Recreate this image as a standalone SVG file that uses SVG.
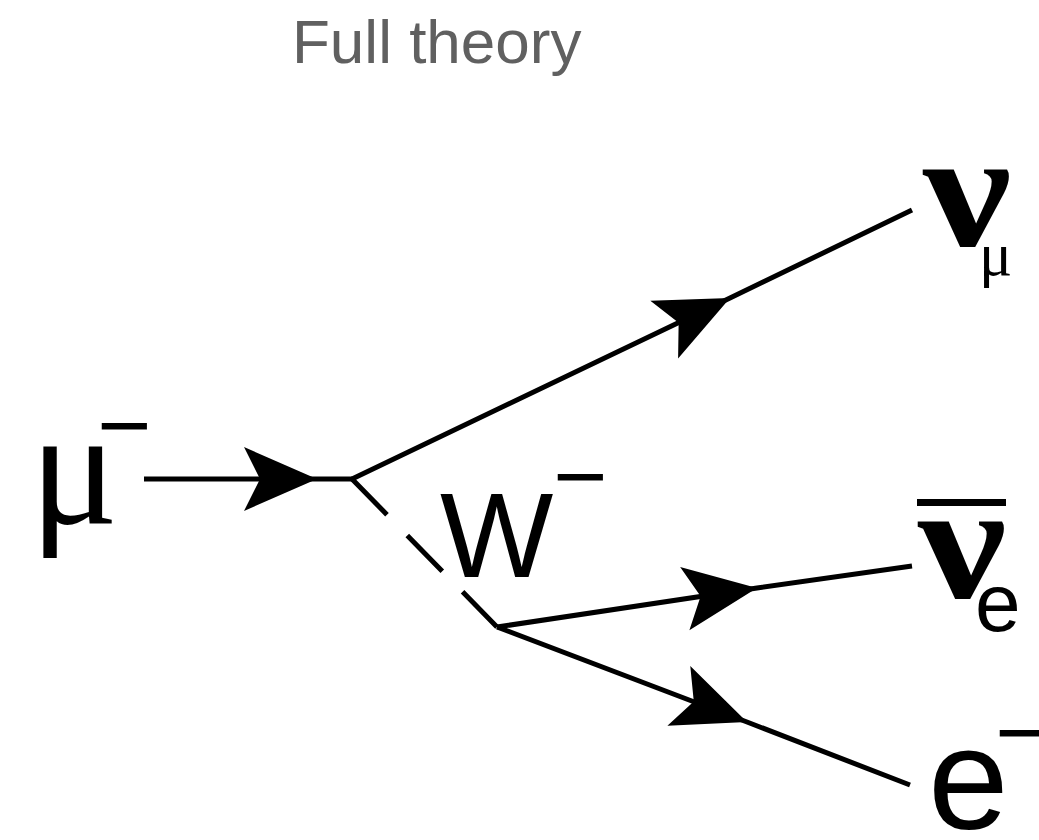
<svg xmlns="http://www.w3.org/2000/svg" width="1039" height="840" viewBox="0 0 1039 840">
  <style>
    .ln { fill: none; stroke: #000; stroke-width: 5; stroke-linejoin: round; }
    .dash { stroke-dasharray: 50 29; }
    .serif { font-family: "Liberation Serif", "Times New Roman", serif; fill: #000; }
    .nu { font-family: "Liberation Serif", "Times New Roman", serif; font-weight: bold; font-size: 165px; fill: #000; }
    .sans { font-family: "Liberation Sans", Arial, sans-serif; fill: #000; }
    .title { font-family: "Liberation Sans", Arial, sans-serif; fill: #606060; font-size: 62px; }
  </style>
  <defs>
    <marker id="arr" markerUnits="userSpaceOnUse" markerWidth="80" markerHeight="80" viewBox="-75 -35 80 70" refX="0" refY="0" orient="auto" overflow="visible">
      <path d="M0,0 L-73,-32 L-57,0 L-73,32 Z" fill="#000"/>
    </marker>
  </defs>

  <g id="title">
    <text class="title" x="292" y="63">Full theory</text>
  </g>

  <g id="connectors">
    <path class="ln" d="M144,479 L317,479 L352,479" marker-mid="url(#arr)"/>
    <path class="ln" d="M352,479 L730,298 L912,210" marker-mid="url(#arr)"/>
    <path class="ln dash" d="M352,479 L497,627"/>
    <path class="ln" d="M497,627 L757,588 L912,566" marker-mid="url(#arr)"/>
    <path class="ln" d="M497,627 L747,722 L910,785" marker-mid="url(#arr)"/>
  </g>

  <g id="muon">
    <text class="serif" x="30" y="523" font-size="165">μ</text>
    <text class="sans" x="97" y="457" font-size="93">−</text>
  </g>

  <g id="wboson">
    <text class="sans" x="440" y="577" font-size="120">W</text>
    <text class="sans" x="553" y="508" font-size="93">−</text>
  </g>

  <g id="numu">
    <text class="nu" transform="translate(923,245) scale(1.2,1)">ν</text>
    <text class="serif" x="979" y="275" font-size="62">μ</text>
  </g>

  <g id="nuebar">
    <line x1="917" y1="502.5" x2="1006" y2="502.5" stroke="#000" stroke-width="7"/>
    <text class="nu" transform="translate(918,597) scale(1.2,1)">ν</text>
    <text class="sans" x="975" y="631" font-size="82">e</text>
  </g>

  <g id="electron">
    <text class="sans" x="928" y="829" font-size="145">e</text>
    <text class="sans" x="995" y="764" font-size="93">−</text>
  </g>
</svg>
